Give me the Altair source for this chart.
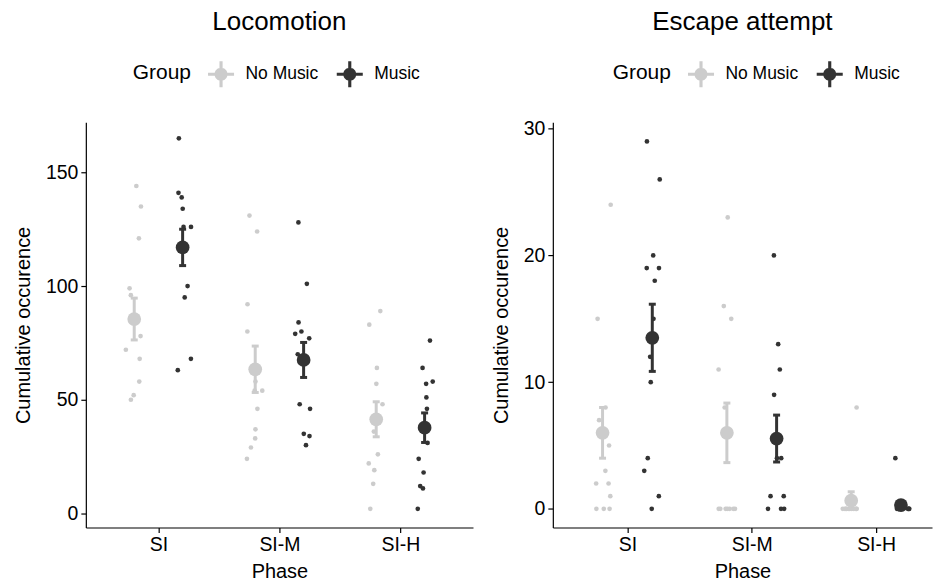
import altair as alt
import pandas as pd
import numpy as np

phases = ["SI", "SI-M", "SI-H"]
groups = ["No Music", "Music"]
colors = ["#CCCCCC", "#333333"]

# ---- Locomotion: individual animals ----
loco_nomusic_si = [144, 135, 121, 99, 96, 78, 72, 68, 58, 52, 50]
loco_music_si = [165, 141, 139, 134, 126, 126, 100, 95, 68, 63]
loco_nomusic_sim = [131, 124, 92, 80, 58, 54, 54, 46, 37, 33, 29, 24]
loco_music_sim = [128, 101, 84, 80, 79, 77, 70, 48, 46, 35, 34, 30]
loco_nomusic_sih = [89, 83, 64, 57, 48, 36, 26, 22, 19, 13, 2]
loco_music_sih = [76, 64, 58, 57, 51, 46, 31, 24, 18, 12, 11, 2]
# means and standard errors (No Music / Music per phase)
loco_mean_nomusic = [85.5, 63.4, 41.4]
loco_se_nomusic = [9.2, 10.2, 7.7]
loco_mean_music = [117.0, 67.5, 37.7]
loco_se_music = [8.0, 7.7, 6.5]

# ---- Escape attempt ----
esc_nomusic_si = [24, 15, 8, 7, 5, 3, 2, 2, 1, 0, 0, 0]
esc_music_si = [29, 26, 20, 19, 19, 18, 15, 12, 10, 4, 3, 1, 0]
esc_nomusic_sim = [23, 16, 15, 11, 8, 0, 0, 0, 0, 0, 0, 0]
esc_music_sim = [20, 13, 11, 9, 4, 4, 1, 1, 0, 0, 0]
esc_nomusic_sih = [8, 0, 0, 0, 0, 0, 0, 0, 0, 0, 0, 0]
esc_music_sih = [4, 0, 0, 0, 0, 0, 0, 0, 0, 0, 0, 0]
esc_mean_nomusic = [6.0, 6.0, 0.65]
esc_se_nomusic = [2.0, 2.35, 0.7]
esc_mean_music = [13.5, 5.55, 0.3]
esc_se_music = [2.65, 1.85, 0.3]

DODGE = {"No Music": -0.2, "Music": 0.2}
rng = np.random.default_rng(7)


def points_frame(series):
    rows = []
    for (phase, group), vals in series.items():
        base = phases.index(phase) + 1 + DODGE[group]
        for v in vals:
            rows.append({"Phase": phase, "Group": group, "value": v,
                         "pos": base + rng.uniform(-0.07, 0.07)})
    return pd.DataFrame(rows)


def means_frame(m_nm, s_nm, m_m, s_m):
    rows = []
    for i, phase in enumerate(phases):
        for group, m, s in (("No Music", m_nm[i], s_nm[i]), ("Music", m_m[i], s_m[i])):
            rows.append({"Phase": phase, "Group": group, "mean": m,
                         "lo": m - s, "hi": m + s, "pos": i + 1 + DODGE[group]})
    return pd.DataFrame(rows)


loco_pts = points_frame({
    ("SI", "No Music"): loco_nomusic_si, ("SI", "Music"): loco_music_si,
    ("SI-M", "No Music"): loco_nomusic_sim, ("SI-M", "Music"): loco_music_sim,
    ("SI-H", "No Music"): loco_nomusic_sih, ("SI-H", "Music"): loco_music_sih,
})
esc_pts = points_frame({
    ("SI", "No Music"): esc_nomusic_si, ("SI", "Music"): esc_music_si,
    ("SI-M", "No Music"): esc_nomusic_sim, ("SI-M", "Music"): esc_music_sim,
    ("SI-H", "No Music"): esc_nomusic_sih, ("SI-H", "Music"): esc_music_sih,
})
loco_means = means_frame(loco_mean_nomusic, loco_se_nomusic, loco_mean_music, loco_se_music)
esc_means = means_frame(esc_mean_nomusic, esc_se_nomusic, esc_mean_music, esc_se_music)

label_expr = " : ".join(
    f"datum.value == {i + 1} ? '{p}'" for i, p in enumerate(phases[:-1])
) + f" : '{phases[-1]}'"

SYMBOL = ("M-1,-0.12 L1,-0.12 L1,0.12 L-1,0.12 Z "
          "M-0.12,-1 L0.12,-1 L0.12,1 L-0.12,1 Z "
          "M-0.5,0 A0.5,0.5 0 1,1 0.5,0 A0.5,0.5 0 1,1 -0.5,0 Z")


def panel(pts, means, title, ydom, yticks, xdom, width, legend_x):
    xs = alt.Scale(domain=xdom, nice=False, zero=False)
    ys = alt.Scale(domain=ydom, nice=False, zero=False)
    xaxis = alt.Axis(values=[1, 2, 3], labelExpr=label_expr, title="Phase", titlePadding=8)
    yaxis = alt.Axis(values=yticks, title="Cumulative occurence", titlePadding=12)
    cscale = alt.Scale(domain=groups, range=colors)
    legend = alt.Legend(title="Group", orient="none", legendX=legend_x, legendY=-62,
                        direction="horizontal", titleOrient="left",
                        symbolType=SYMBOL, symbolSize=680, symbolStrokeWidth=0,
                        labelFontSize=17.5, titleFontSize=21, titleFontWeight="normal",
                        labelColor="black", titleColor="black", symbolOpacity=1,
                        columnPadding=18, labelOffset=11, titlePadding=16)
    col = alt.Color("Group:N", scale=cscale, legend=legend)
    x = alt.X("pos:Q", scale=xs, axis=xaxis)

    p = alt.Chart(pts).mark_circle(size=22, opacity=1).encode(
        x=x, y=alt.Y("value:Q", scale=ys, axis=yaxis), color=col)
    bars = alt.Chart(means).mark_rule(strokeWidth=3).encode(
        x=x, y=alt.Y("lo:Q", scale=ys, axis=yaxis), y2="hi:Q", color=col)
    cap_hi = alt.Chart(means).mark_tick(orient="horizontal", size=7, thickness=3, opacity=1).encode(
        x=x, y=alt.Y("hi:Q", scale=ys, axis=yaxis), color=col)
    cap_lo = alt.Chart(means).mark_tick(orient="horizontal", size=7, thickness=3, opacity=1).encode(
        x=x, y=alt.Y("lo:Q", scale=ys, axis=yaxis), color=col)
    m = alt.Chart(means).mark_circle(size=190, opacity=1).encode(
        x=x, y=alt.Y("mean:Q", scale=ys, axis=yaxis), color=col)
    return alt.layer(p, bars, cap_hi, cap_lo, m).properties(
        width=width, height=406,
        title=alt.TitleParams(title, fontSize=26, fontWeight="normal", anchor="middle",
                              color="black", offset=26))


left = panel(loco_pts, loco_means, "Locomotion", [-6.2, 172], [0, 50, 100, 150],
             [0.4, 3.6], 388, 47)
right = panel(esc_pts, esc_means, "Escape attempt", [-1.47, 30.5], [0, 10, 20, 30],
              [0.4, 3.45], 380, 60)

chart = alt.hconcat(left, right, spacing=18).resolve_scale(
    color="independent").resolve_legend(color="independent").properties(
    padding={"left": 5, "top": 0, "right": 5, "bottom": 0}).configure(
    font="Liberation Sans").configure_view(stroke=None).configure_axis(
    grid=False, domainColor="black", tickColor="black", labelColor="black",
    titleColor="black", labelFontSize=19.5, titleFontSize=20, titleFontWeight="normal",
    domainWidth=1.2, tickWidth=1.2, tickSize=5, labelPadding=3,
    labelFlush=False, labelOverlap=False)

chart.save("out.html", embed_options={"renderer": "svg", "actions": False})
